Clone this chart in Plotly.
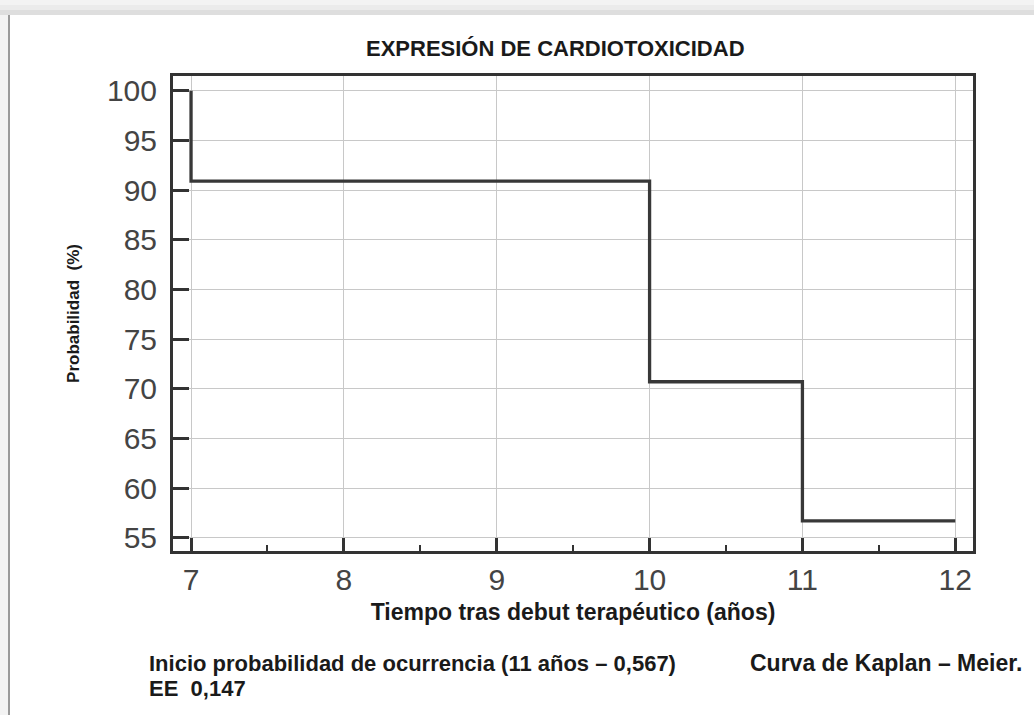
import plotly.graph_objects as go

# Kaplan-Meier step data (years, survival %)
times = [7, 7, 10, 11, 12]
survival = [100, 90.9, 70.7, 56.7, 56.7]

x_ticks = [7, 8, 9, 10, 11, 12]
y_ticks = [55, 60, 65, 70, 75, 80, 85, 90, 95, 100]

title_text = "EXPRESIÓN DE CARDIOTOXICIDAD"
x_title = "Tiempo tras debut terapéutico (años)"
y_title = "Probabilidad  (%)"
note_left = "Inicio probabilidad de ocurrencia (11 años – 0,567)"
note_right = "Curva de Kaplan – Meier."
note_ee = "EE  0,147"

FONT = "Liberation Sans, Arial, sans-serif"
W, H = 1034, 715
L, R, T, B = 173, 973, 76, 551

def px(x):
    return (x - L) / (R - L)

def py(y):
    return (B - y) / (B - T)

fig = go.Figure()
fig.add_trace(go.Scatter(
    x=times, y=survival, mode="lines", line_shape="hv",
    line=dict(color="#383838", width=3.3), showlegend=False, hoverinfo="x+y"))

fig.update_layout(
    width=W, height=H, autosize=False,
    margin=dict(l=L, r=W - R, t=T, b=H - B, pad=0),
    paper_bgcolor="white", plot_bgcolor="white",
    font=dict(family=FONT, color="#333333"),
    showlegend=False,
)

fig.update_xaxes(
    range=[6.882, 12.116], tickvals=x_ticks, ticktext=[str(v) for v in x_ticks],
    ticks="inside", ticklen=13, tickwidth=2.5, tickcolor="#333333",
    minor=dict(dtick=0.5, tick0=7, ticks="inside", ticklen=6, tickwidth=2, tickcolor="#333333", showgrid=False),
    showline=True, linewidth=3, linecolor="#333333", mirror=True,
    showgrid=True, gridcolor="#c8c8c8", gridwidth=1,
    tickfont=dict(size=30, color="#444444", family=FONT),
    ticklabelstandoff=0, zeroline=False,
    title=dict(text="<b>" + x_title + "</b>", font=dict(size=23, color="#1a1a1a", family=FONT), standoff=9),
)
fig.update_yaxes(
    range=[53.66, 101.48], tickvals=y_ticks, ticktext=[str(v) for v in y_ticks],
    ticks="inside", ticklen=16, tickwidth=2.5, tickcolor="#333333",
    showline=True, linewidth=3, linecolor="#333333", mirror=True,
    showgrid=True, gridcolor="#c8c8c8", gridwidth=1,
    tickfont=dict(size=30, color="#444444", family=FONT),
    ticklabelstandoff=7, zeroline=False,
    title=dict(text="<b>" + y_title + "</b>", font=dict(size=17, color="#1a1a1a", family=FONT), standoff=23),
)

annots = [
    dict(text="<b>" + title_text + "</b>", x=px(555), y=py(48), xanchor="center", yanchor="middle", size=22),
    dict(text="<b>" + note_left + "</b>", x=px(147), y=py(663), xanchor="left", yanchor="middle", size=22),
    dict(text="<b>" + note_ee + "</b>", x=px(147), y=py(688), xanchor="left", yanchor="middle", size=22),
    dict(text="<b>" + note_right + "</b>", x=px(748), y=py(663), xanchor="left", yanchor="middle", size=23),
]
for a in annots:
    fig.add_annotation(text=a["text"], x=a["x"], y=a["y"], xref="paper", yref="paper",
                       xanchor=a["xanchor"], yanchor=a["yanchor"], showarrow=False,
                       font=dict(size=a["size"], color="#1a1a1a", family=FONT))

# photo-like drop shadow framing
shadow_bands = [(0, 5, "#f3f3f3"), (5, 10, "#ebebeb"), (10, 15, "#dedede")]
for y0, y1, col in shadow_bands:
    fig.add_shape(type="rect", xref="paper", yref="paper", x0=px(0), x1=px(W), y0=py(y0), y1=py(y1),
                  fillcolor=col, line=dict(width=0), layer="below")
fig.add_shape(type="rect", xref="paper", yref="paper", x0=px(0), x1=px(8), y0=py(15), y1=py(H),
              fillcolor="#f3f3f3", line=dict(width=0), layer="below")
fig.add_shape(type="line", xref="paper", yref="paper", x0=px(9), x1=px(9), y0=py(15), y1=py(H),
              line=dict(color="#9a9a9a", width=2), layer="below")

fig.write_html("out.html", config={"displayModeBar": False},
               post_script="document.body.style.margin='0';")
